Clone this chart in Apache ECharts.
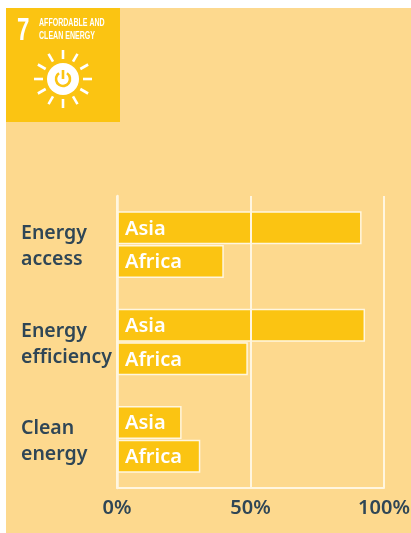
<!DOCTYPE html>
<html><head><meta charset="utf-8">
<style>html,body{margin:0;padding:0;background:#fff}#c{width:411px;height:533px}</style>
<script src="https://cdn.jsdelivr.net/npm/echarts@6/dist/echarts.min.js"></script>
</head><body><div id="c"></div>
<script>
var categories = ['Energy\naccess', 'Energy\nefficiency', 'Clean\nenergy'];
var asiaValues = [91.6, 92.9, 24.2];
var africaValues = [40, 49, 31.2];
var xTicks = [0, 50, 100];

var AMBER = '#fbc412', BG = '#fdd98e', INK = '#2f4656', FONT = '"Noto Sans", "Open Sans", sans-serif';

var rays = [];
for (var i = 0; i < 12; i++) {
  var a = i * Math.PI / 6;
  rays.push({type:'line', silent:true, shape:{
    x1:63 + 20 * Math.cos(a), y1:79 + 20 * Math.sin(a),
    x2:63 + 29 * Math.cos(a), y2:79 + 29 * Math.sin(a)},
    style:{stroke:'#fff', lineWidth:2.6}});
}

function series(name, values) {
  return {
    name:name, type:'bar', data:values, barWidth:33, barGap:'2%', z:2,
    itemStyle:{color:AMBER, borderColor:'#fff6e0', borderWidth:1.5},
    label:{show:true, position:'insideLeft', distance:8, offset:[0,1], formatter:name,
      color:'#fff', fontFamily:FONT, fontSize:20, fontWeight:600}
  };
}

var chart = echarts.init(document.getElementById('c'), null, {renderer:'canvas'});
chart.setOption({
  animation:false,
  backgroundColor:'#fff',
  grid:{left:117, right:27, top:196, bottom:45, containLabel:false, outerBoundsMode:'none'},
  xAxis:{type:'value', min:0, max:100, interval:50, z:3,
    axisLine:{show:true, lineStyle:{color:'#fff6e0', width:2}},
    axisTick:{show:false},
    splitLine:{show:true, lineStyle:{color:'#fff6e0', width:2}},
    axisLabel:{margin:10, color:INK, fontFamily:FONT, fontSize:20, fontWeight:600, hideOverlap:false,
      formatter:function(v){return xTicks.indexOf(v) >= 0 ? v + '%' : '';}}
  },
  yAxis:{type:'category', data:categories, inverse:true, z:3,
    axisLine:{show:true, lineStyle:{color:'#fff6e0', width:2.5}},
    axisTick:{show:false},
    splitLine:{show:false},
    axisLabel:{align:'left', margin:96,
      formatter:function(v){return v.split('\n').map(function(s){return '{a|'+s+'}';}).join('\n');},
      rich:{a:{color:INK, fontFamily:FONT, fontSize:19.5, fontWeight:600, lineHeight:26, padding:[4,0,0,0]}}
    }
  },
  series:[series('Asia', asiaValues), series('Africa', africaValues)],
  graphic:[
    {type:'rect', silent:true, z:-10, shape:{x:6,y:8,width:405,height:525}, style:{fill:BG}},
    {type:'rect', silent:true, z:-9, shape:{x:6,y:8,width:114,height:114}, style:{fill:AMBER}},
    {type:'text', silent:true, x:17, y:16, scaleX:0.72, style:{text:'7', fill:'#fff', fontFamily:'"Liberation Sans"', fontWeight:'bold', fontSize:31}},
    {type:'text', silent:true, x:39, y:17, scaleX:0.64, style:{text:'AFFORDABLE AND', fill:'#fff', fontFamily:'"Liberation Sans Narrow","Liberation Sans"', fontWeight:'bold', fontSize:11}},
    {type:'text', silent:true, x:39, y:30, scaleX:0.64, style:{text:'CLEAN ENERGY', fill:'#fff', fontFamily:'"Liberation Sans Narrow","Liberation Sans"', fontWeight:'bold', fontSize:11}},
    {type:'group', silent:true, children:rays.concat([
      {type:'circle', silent:true, shape:{cx:63,cy:79,r:16}, style:{fill:'#fff'}},
      {type:'arc', silent:true, shape:{cx:63,cy:79,r:7,startAngle:-Math.PI/2+0.6,endAngle:-Math.PI/2-0.6,clockwise:true}, style:{stroke:AMBER,lineWidth:2.6,fill:null}},
      {type:'line', silent:true, shape:{x1:63,y1:70,x2:63,y2:79}, style:{stroke:AMBER,lineWidth:2.6}}
    ])}
  ]
});
</script></body></html>
